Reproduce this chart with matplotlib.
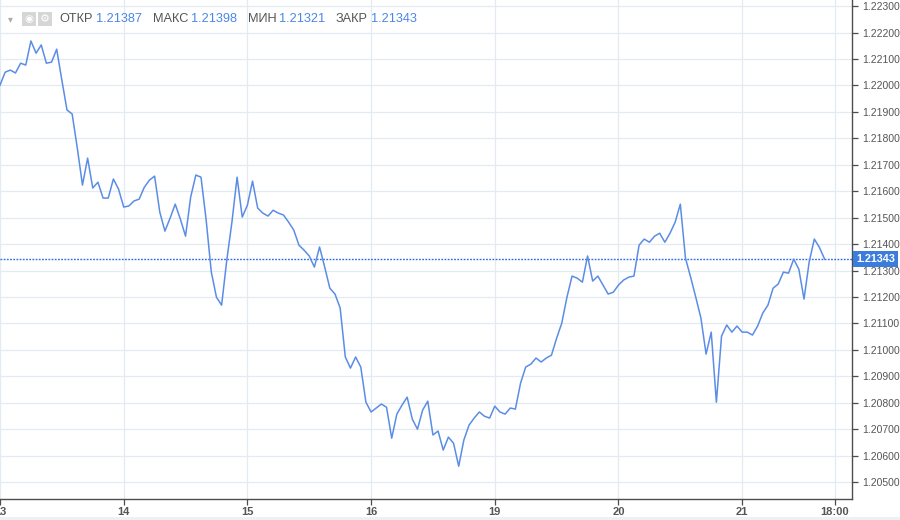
import matplotlib
matplotlib.use("Agg")
import matplotlib.pyplot as plt
import matplotlib.transforms as mtransforms
from matplotlib.patches import Rectangle
import numpy as np

# hourly closes, one row per trading day (13, 14, 15, 16, 19, 20, 21)
day13 = [1.22001, 1.22050, 1.22058, 1.22047, 1.22084, 1.22077, 1.22168, 1.22122,
         1.22153, 1.22084, 1.22088, 1.22137, 1.22020, 1.21907, 1.21892, 1.21763,
         1.21623, 1.21725, 1.21612, 1.21634, 1.21574, 1.21574, 1.21646, 1.21608]
day14 = [1.21540, 1.21544, 1.21563, 1.21570, 1.21615, 1.21642, 1.21657, 1.21521,
         1.21449, 1.21498, 1.21551, 1.21494, 1.21430, 1.21578, 1.21661, 1.21653,
         1.21491, 1.21294, 1.21199, 1.21169, 1.21339, 1.21483, 1.21653, 1.21502]
day15 = [1.21547, 1.21638, 1.21536, 1.21517, 1.21506, 1.21528, 1.21517, 1.21510,
         1.21483, 1.21453, 1.21396, 1.21377, 1.21355, 1.21313, 1.21389, 1.21313,
         1.21233, 1.21211, 1.21158, 1.20973, 1.20931, 1.20973, 1.20935, 1.20802]
day16 = [1.20765, 1.20780, 1.20795, 1.20783, 1.20666, 1.20757, 1.20791, 1.20821,
         1.20738, 1.20700, 1.20772, 1.20806, 1.20678, 1.20693, 1.20621, 1.20670,
         1.20647, 1.20560, 1.20659, 1.20715, 1.20742, 1.20765, 1.20749, 1.20742]
day19 = [1.20787, 1.20765, 1.20757, 1.20780, 1.20776, 1.20874, 1.20935, 1.20946,
         1.20969, 1.20954, 1.20969, 1.20980, 1.21044, 1.21101, 1.21199, 1.21279,
         1.21271, 1.21256, 1.21355, 1.21260, 1.21279, 1.21245, 1.21211, 1.21218]
day20 = [1.21245, 1.21264, 1.21275, 1.21279, 1.21396, 1.21419, 1.21407, 1.21430,
         1.21441, 1.21407, 1.21441, 1.21483, 1.21551, 1.21347, 1.21275, 1.21199,
         1.21120, 1.20984, 1.21067, 1.20802, 1.21052, 1.21094, 1.21067, 1.21090]
day21 = [1.21067, 1.21067, 1.21056, 1.21090, 1.21139, 1.21169, 1.21233, 1.21249,
         1.21294, 1.21290, 1.21343, 1.21305, 1.21192, 1.21332, 1.21419, 1.21387,
         1.21343]

tick_pos = [0, 1, 2, 3, 4, 5, 6, 6.75]
tick_lbl = ['13', '14', '15', '16', '19', '20', '21', '18:00']
price_ticks = [1.20500, 1.20600, 1.20700, 1.20800, 1.20900, 1.21000, 1.21100,
               1.21200, 1.21300, 1.21400, 1.21500, 1.21600, 1.21700, 1.21800,
               1.21900, 1.22000, 1.22100, 1.22200, 1.22300]
last_price = 1.21343
ohlc_names = ['ОТКР', 'МАКС', 'МИН', 'ЗАКР']
ohlc_vals = ['1.21387', '1.21398', '1.21321', '1.21343']

prices = np.array(day13 + day14 + day15 + day16 + day19 + day20 + day21)
x = np.arange(len(prices)) / 24.0

plt.rcParams['font.family'] = ['Liberation Sans', 'DejaVu Sans']

W, H = 900, 520
fig = plt.figure(figsize=(9, 5.2), dpi=100)
ax = fig.add_axes([0, 21 / H, 852 / W, 1 - 21 / H])

grid_c = '#e3eaf1'
line_c = '#5b8de6'
axis_c = '#4d4d4d'
text_c = '#555555'

ax.plot(x, prices, color=line_c, lw=1.1, zorder=3)
ax.axhline(last_price, color='#2f6fe0', lw=1.0, ls=(0, (1.3, 1.0)), zorder=2)

ax.set_xlim(0.0065, 6.888)
ax.set_ylim(1.20436, 1.22323)

ax.set_xticks(tick_pos)
ax.set_xticklabels(tick_lbl)
ax.set_yticks(price_ticks)
ax.set_yticklabels(['%.5f' % v for v in price_ticks])
ax.yaxis.tick_right()
ax.grid(True, color=grid_c, lw=0.9)
ax.set_axisbelow(True)

for s in ['left', 'top']:
    ax.spines[s].set_visible(False)
for s in ['right', 'bottom']:
    ax.spines[s].set_color(axis_c)
    ax.spines[s].set_linewidth(1.0)

ax.tick_params(axis='y', direction='out', length=4, width=0.9, color=axis_c,
               labelsize=7.5, labelcolor=text_c, pad=3)
ax.tick_params(axis='x', direction='out', length=4, width=0.9, color=axis_c,
               labelsize=8, labelcolor=text_c, pad=2)
for t in ax.get_xticklabels():
    t.set_fontweight('bold')

# last price tag on the price scale
trans = mtransforms.blended_transform_factory(ax.transAxes, ax.transData)
ax.text(1.0 + 4 / 852, last_price, '1.21343', transform=trans, ha='left',
        va='center', fontsize=7.8, color='white', fontweight='bold',
        bbox=dict(boxstyle='square,pad=0.3', fc='#3b7ddd', ec='none'),
        clip_on=False, zorder=5)

# bottom grey strip
fig.patches.append(Rectangle((0, 0), 1, 3 / H, transform=fig.transFigure,
                             fc='#eef1f4', ec='none'))

# header: dropdown arrow, icons, OHLC values
hy = 1 - 19 / H
fig.text(8 / W, hy, '▾', ha='left', va='center', fontsize=7, color='#aaaaaa',
         family='DejaVu Sans')
for ix in [22, 38]:
    fig.patches.append(Rectangle((ix / W, 1 - 26 / H), 14 / W, 14 / H,
                                 transform=fig.transFigure, fc='#d6d6d6', ec='none'))
fig.text(29 / W, hy, '◉', ha='center', va='center', fontsize=7.5, color='white',
         family='DejaVu Sans')
fig.text(45 / W, hy, '⚙', ha='center', va='center', fontsize=8, color='white',
         family='DejaVu Sans')

name_x = [59, 153, 248, 336]
val_x = [96, 191, 279, 371]
for n, v, nx, vx in zip(ohlc_names, ohlc_vals, name_x, val_x):
    fig.text(nx / W, hy, n, ha='left', va='center', fontsize=9.2, color=text_c)
    fig.text(vx / W, hy, v, ha='left', va='center', fontsize=9.2, color='#4a86e8')

fig.savefig('out.png', dpi=100)
